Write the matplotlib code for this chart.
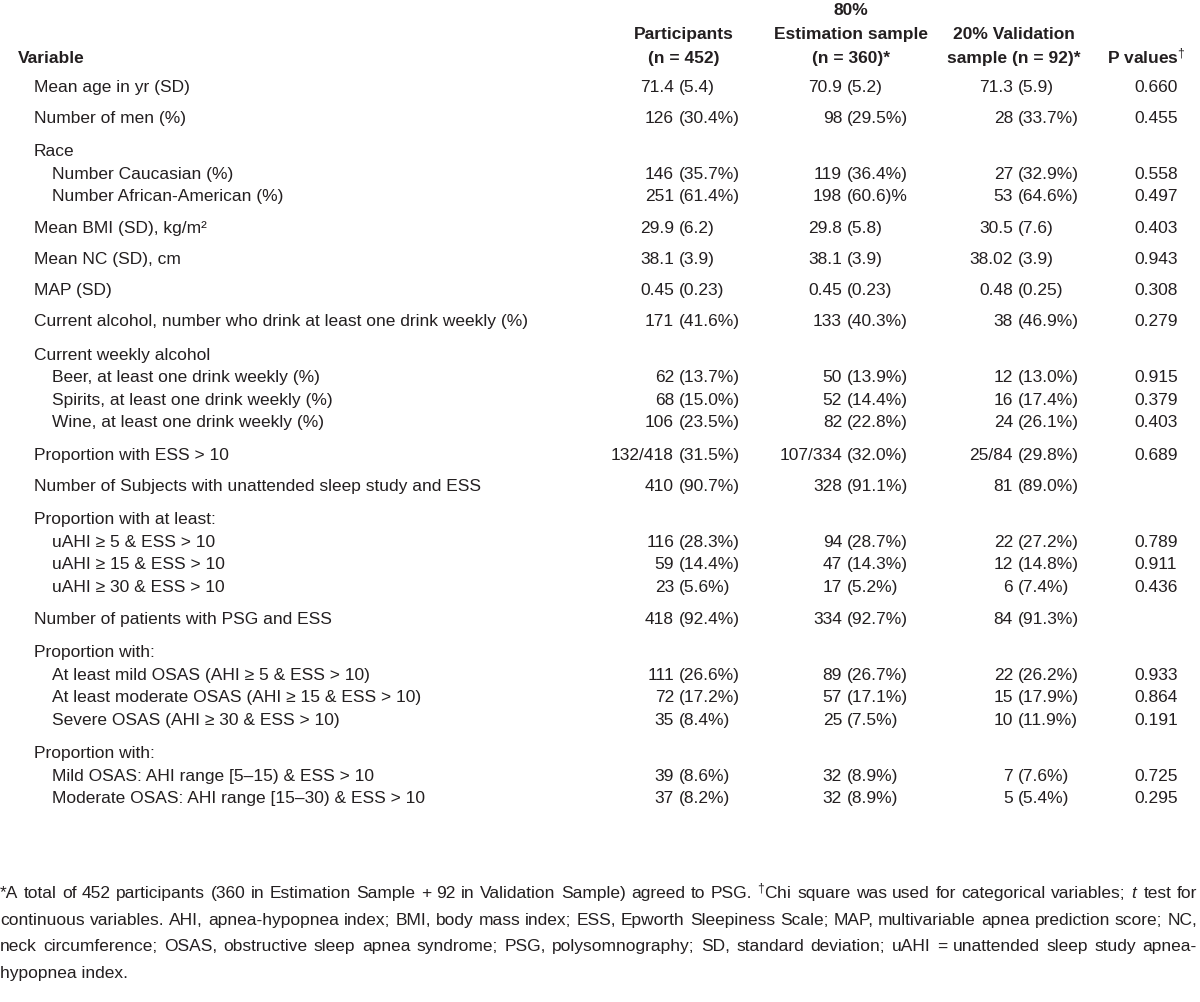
import matplotlib
matplotlib.use("Agg")
import matplotlib.pyplot as plt
from matplotlib import font_manager

# ---- data -------------------------------------------------------------
labels = [
    "Mean age in yr (SD)",
    "Number of men (%)",
    "Race",
    "Number Caucasian (%)",
    "Number African-American (%)",
    "Mean BMI (SD), kg/m²",
    "Mean NC (SD), cm",
    "MAP (SD)",
    "Current alcohol, number who drink at least one drink weekly (%)",
    "Current weekly alcohol",
    "Beer, at least one drink weekly (%)",
    "Spirits, at least one drink weekly (%)",
    "Wine, at least one drink weekly (%)",
    "Proportion with ESS > 10",
    "Number of Subjects with unattended sleep study and ESS",
    "Proportion with at least:",
    "uAHI ≥ 5 & ESS > 10",
    "uAHI ≥ 15 & ESS > 10",
    "uAHI ≥ 30 & ESS > 10",
    "Number of patients with PSG and ESS",
    "Proportion with:",
    "At least mild OSAS (AHI ≥ 5 & ESS > 10)",
    "At least moderate OSAS (AHI ≥ 15 & ESS > 10)",
    "Severe OSAS (AHI ≥ 30 & ESS > 10)",
    "Proportion with:",
    "Mild OSAS: AHI range [5–15) & ESS > 10",
    "Moderate OSAS: AHI range [15–30) & ESS > 10",
]
levels = [0, 0, 0, 1, 1, 0, 0, 0, 0, 0, 1, 1, 1, 0, 0, 0, 1, 1, 1, 0, 0, 1, 1, 1, 0, 1, 1]

participants = [
    "71.4 (5.4)", "126 (30.4%)", "", "146 (35.7%)", "251 (61.4%)",
    "29.9 (6.2)", "38.1 (3.9)", "0.45 (0.23)", "171 (41.6%)", "",
    "62 (13.7%)", "68 (15.0%)", "106 (23.5%)", "132/418 (31.5%)", "410 (90.7%)",
    "", "116 (28.3%)", "59 (14.4%)", "23 (5.6%)", "418 (92.4%)",
    "", "111 (26.6%)", "72 (17.2%)", "35 (8.4%)", "", "39 (8.6%)", "37 (8.2%)",
]
estimation = [
    "70.9 (5.2)", "98 (29.5%)", "", "119 (36.4%)", "198 (60.6)%",
    "29.8 (5.8)", "38.1 (3.9)", "0.45 (0.23)", "133 (40.3%)", "",
    "50 (13.9%)", "52 (14.4%)", "82 (22.8%)", "107/334 (32.0%)", "328 (91.1%)",
    "", "94 (28.7%)", "47 (14.3%)", "17 (5.2%)", "334 (92.7%)",
    "", "89 (26.7%)", "57 (17.1%)", "25 (7.5%)", "", "32 (8.9%)", "32 (8.9%)",
]
validation = [
    "71.3 (5.9)", "28 (33.7%)", "", "27 (32.9%)", "53 (64.6%)",
    "30.5 (7.6)", "38.02 (3.9)", "0.48 (0.25)", "38 (46.9%)", "",
    "12 (13.0%)", "16 (17.4%)", "24 (26.1%)", "25/84 (29.8%)", "81 (89.0%)",
    "", "22 (27.2%)", "12 (14.8%)", "6 (7.4%)", "84 (91.3%)",
    "", "22 (26.2%)", "15 (17.9%)", "10 (11.9%)", "", "7 (7.6%)", "5 (5.4%)",
]
p_values = [
    "0.660", "0.455", "", "0.558", "0.497", "0.403", "0.943", "0.308", "0.279", "",
    "0.915", "0.379", "0.403", "0.689", "", "", "0.789", "0.911", "0.436", "",
    "", "0.933", "0.864", "0.191", "", "0.725", "0.295",
]

headers = [
    ["Participants", "(n = 452)"],
    ["80%", "Estimation sample", "(n = 360)*"],
    ["20% Validation", "sample (n = 92)*"],
]

footnote_lines = [
    "*A total of 452 participants (360 in Estimation Sample + 92 in Validation Sample) "
    "agreed to PSG. $^{\\dagger}$Chi square was used for categorical variables; $\\mathit{t}$ test for",
    "continuous variables. AHI, apnea-hypopnea index; BMI, body mass index; ESS, Epworth "
    "Sleepiness Scale; MAP, multivariable apnea prediction score; NC,",
    "neck circumference; OSAS, obstructive sleep apnea syndrome; PSG, polysomnography; SD, "
    "standard deviation; uAHI = unattended sleep study apnea-",
    "hypopnea index.",
]

# ---- fonts ------------------------------------------------------------
available = {f.name for f in font_manager.fontManager.ttflist}
base = "Liberation Sans Narrow" if "Liberation Sans Narrow" in available else "Liberation Sans"
plt.rcParams["font.family"] = [base, "DejaVu Sans"]
plt.rcParams["mathtext.fontset"] = "custom"
plt.rcParams["mathtext.rm"] = base
plt.rcParams["mathtext.it"] = base + ":italic"
plt.rcParams["mathtext.bf"] = base + ":bold"

FS = 12.5
COLOR = "#231f20"

fig = plt.figure(figsize=(12, 10.03), dpi=100)
ax = fig.add_axes([0, 0, 1, 1])
ax.set_xlim(0, 1200)
ax.set_ylim(1003, 0)
ax.axis("off")

# ---- header -----------------------------------------------------------
head_x = [684, 851, 1014]
ax.text(18, 58, "Variable", fontsize=FS, fontweight="bold", va="center", color=COLOR)
for hx, lines in zip(head_x, headers):
    for i, line in enumerate(reversed(lines)):
        ax.text(hx, 58 - 24 * i, line, fontsize=FS, fontweight="bold",
                ha="center", va="center", color=COLOR)
ax.text(1146, 63, "P values$^{\\dagger}$", fontsize=FS, fontweight="bold",
        ha="center", va="baseline", color=COLOR)

# ---- body rows --------------------------------------------------------
paren_x = [679, 847, 1018]
y = 87
for i, label in enumerate(labels):
    ax.text(34 + 18 * levels[i], y, label, fontsize=FS, va="center", color=COLOR)
    for px, col in zip(paren_x, (participants, estimation, validation)):
        cell = col[i]
        if not cell:
            continue
        num, rest = cell.split(" ", 1)
        ax.text(px - 5, y, num, fontsize=FS, ha="right", va="center", color=COLOR)
        ax.text(px, y, rest, fontsize=FS, ha="left", va="center", color=COLOR)
    if p_values[i]:
        ax.text(1156, y, p_values[i], fontsize=FS, ha="center", va="center", color=COLOR)
    if i + 1 < len(labels):
        nxt_sub = levels[i + 1] == 1
        nxt_group = i + 2 < len(labels) and levels[i + 1] == 0 and levels[i + 2] == 1
        if nxt_sub:
            y += 22.5
        elif nxt_group:
            y += 33.5
        elif levels[i] == 1:
            y += 32.3
        else:
            y += 31

# ---- footnote (justified) ---------------------------------------------
fig.canvas.draw()
renderer = fig.canvas.get_renderer()
left, right = 0, 1197
fy = 898
for k, line in enumerate(footnote_lines):
    words = line.split(" ")
    if k == len(footnote_lines) - 1:
        ax.text(left, fy, line, fontsize=FS, va="baseline", color=COLOR)
    else:
        arts = [ax.text(0, fy, w, fontsize=FS, va="baseline", color=COLOR) for w in words]
        widths = [a.get_window_extent(renderer).width for a in arts]
        gap = (right - left - sum(widths)) / (len(words) - 1)
        x = left
        for a, w in zip(arts, widths):
            a.set_x(x)
            x += w + gap
    fy += 26.7

fig.savefig("out.png", dpi=100)
